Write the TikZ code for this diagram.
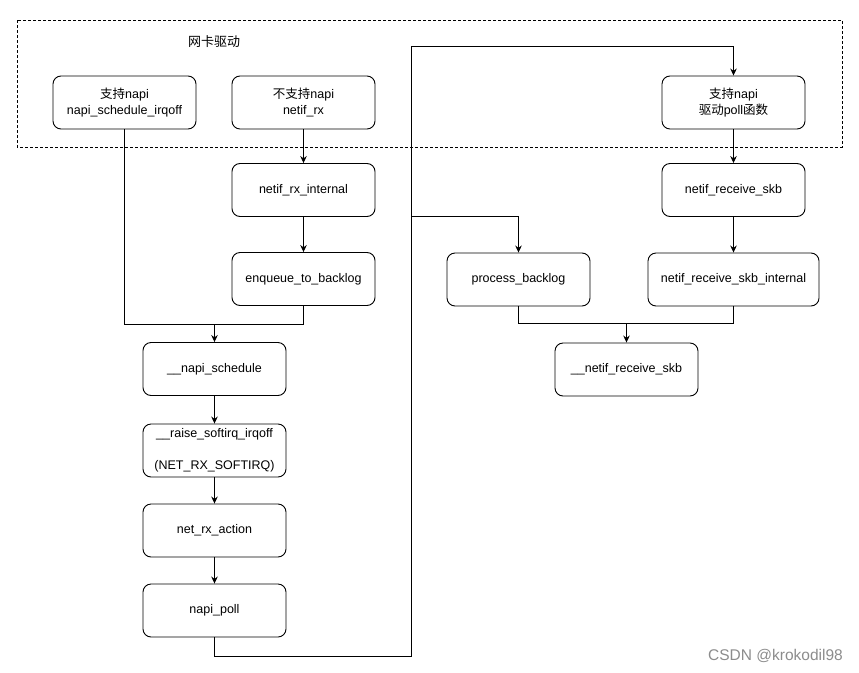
\documentclass[tikz,border=0pt]{standalone}
\usepackage{fontspec}
\setmainfont{Liberation Sans}
\newfontfamily\cjk{Noto Sans CJK SC}
\usepackage{tikz}
\usetikzlibrary{positioning}
\usetikzlibrary{arrows.meta}
\usepackage{xcolor}

\tikzset{
    fnbox/.style={draw, line width=0.9pt, rounded corners=8pt, minimum width=143pt,
        minimum height=53pt, align=center, inner sep=2pt,
        font=\fontsize{12.5}{16}\selectfont},
    flow/.style={line width=0.9pt, -{Stealth[length=7pt,width=6.5pt]}},
    plain/.style={line width=0.9pt}
}

\begin{document}
\begin{tikzpicture}[x=1pt, y=-1pt]
    \useasboundingbox (0,0) rectangle (859,672);

    % Driver area
    \draw[line width=0.8pt, dash pattern=on 3pt off 2pt] (17,20) rectangle (842,147);
    \node (drvtitle) at (214,42) {\fontsize{13}{15}\selectfont\cjk 网卡驱动};

    % Driver entry points
    \node[fnbox] (napisched) at (124.5,102.5) {{\cjk 支持}napi\\napi\_schedule\_irqoff};
    \node[fnbox] (netifrx) at (303.5,102.5) {{\cjk 不支持}napi\\netif\_rx};
    \node[fnbox] (pollfn) at (733.5,102.5) {{\cjk 支持}napi\\{\cjk 驱动}poll{\cjk 函数}};

    % Non-napi path
    \node[fnbox] (rxint) at (303.5,190) {netif\_rx\_internal};
    \node[fnbox] (enq) at (303.5,279) {enqueue\_to\_backlog};

    % Softirq path
    \node[fnbox] (napischedule) at (214.5,369) {\_\_napi\_schedule};
    \node[fnbox] (raise) at (214.5,450.5) {\_\_raise\_softirq\_irqoff\\[16pt](NET\_RX\_SOFTIRQ)};
    \node[fnbox] (rxaction) at (214.5,530.5) {net\_rx\_action};
    \node[fnbox] (napipoll) at (214.5,610.5) {napi\_poll};

    % Receive path
    \node[fnbox] (backlog) at (518.5,279.5) {process\_backlog};
    \node[fnbox] (recvskb) at (733.5,190) {netif\_receive\_skb};
    \node[fnbox, minimum width=171pt] (recvint) at (733.5,279.5) {netif\_receive\_skb\_internal};
    \node[fnbox] (netifrecv) at (626.5,369.5) {\_\_netif\_receive\_skb};

    % Corner points
    \coordinate (join1) at (214.5,324);
    \coordinate (join2) at (626.5,323);
    \coordinate (loopbot) at (411,656);
    \coordinate (looptop) at (411,46);
    \coordinate (branch) at (411,216);

    % Connectors
    \draw[flow] (netifrx) -- (rxint);
    \draw[flow] (rxint) -- (enq);
    \draw[plain] (napisched.south) |- (join1);
    \draw[flow] (enq.south) |- (join1) -- (napischedule.north);
    \draw[flow] (napischedule) -- (raise);
    \draw[flow] (raise) -- (rxaction);
    \draw[flow] (rxaction) -- (napipoll);
    \draw[flow] (napipoll.south) |- (loopbot) -- (looptop) -| (pollfn.north);
    \draw[flow] (branch) -| (backlog.north);
    \draw[flow] (pollfn) -- (recvskb);
    \draw[flow] (recvskb) -- (recvint);
    \draw[plain] (backlog.south) |- (join2);
    \draw[flow] (recvint.south) |- (join2) -- (netifrecv.north);

    % Watermark
    \node[text=gray!90] (mark) at (775.5,656) {\fontsize{15.5}{17}\selectfont CSDN @krokodil98};
\end{tikzpicture}
\end{document}
